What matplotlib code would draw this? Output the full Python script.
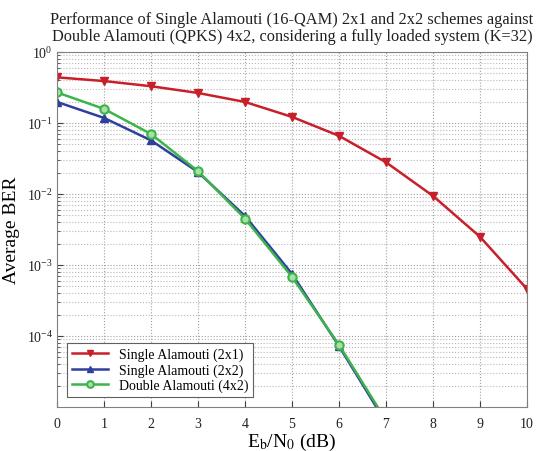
import numpy as np
import matplotlib
matplotlib.use("Agg")
import matplotlib.pyplot as plt
from matplotlib.ticker import LogLocator, NullFormatter

plt.rcParams['font.family'] = ['Liberation Serif', 'DejaVu Serif']
plt.rcParams['mathtext.fontset'] = 'stix'

ebn0 = [0, 1, 2, 3, 4, 5, 6, 7, 8, 9, 10]
ber_2x1 = [0.44, 0.39, 0.33, 0.265, 0.198, 0.122, 0.066, 0.028, 0.0094, 0.0025, 0.00046]
ebn0_short = [0, 1, 2, 3, 4, 5, 6, 7]
ber_2x2 = [0.198, 0.118, 0.057, 0.0204, 0.0049, 0.00075, 7.2e-5, 6.0e-6]
ber_4x2 = [0.27, 0.158, 0.07, 0.021, 0.0045, 0.00068, 7.5e-5, 6.5e-6]

fig = plt.figure(figsize=(5.43, 4.52), dpi=100)
ax = fig.add_axes([0.105, 0.0973, 0.8655, 0.7854])

ax.semilogy(ebn0, ber_2x1, color='#c8202a', lw=1.8, marker='v', ms=6, label='Single Alamouti (2x1)')
ax.semilogy(ebn0_short, ber_2x2, color='#2e3f9e', lw=1.8, marker='^', ms=6, label='Single Alamouti (2x2)')
ax.semilogy(ebn0_short, ber_4x2, color='#3cb44b', lw=1.8, marker='o', ms=6, mfc='#a8e0a8', mew=1.5,
            label='Double Alamouti (4x2)')

ax.set_xlim(0, 10)
ax.set_ylim(1e-5, 1)
ax.set_xticks(range(0, 11))
ax.set_yticks([1e-4, 1e-3, 1e-2, 1e-1, 1e0])
ax.yaxis.set_minor_locator(LogLocator(base=10, subs=np.arange(2, 10)))
ax.yaxis.set_minor_formatter(NullFormatter())
ax.tick_params(which='both', direction='in', labelsize=10, colors='#404040', labelcolor='#202020')
ax.tick_params(axis='x', pad=7)
ax.tick_params(axis='y', pad=3)
ax.tick_params(which='minor', length=2)
ax.tick_params(which='major', length=4)
ax.grid(True, which='major', linestyle=':', color='#a0a0a0', lw=0.8)
ax.grid(True, which='minor', axis='y', linestyle=':', color='#b8b8b8', lw=0.8)
for s in ax.spines.values():
    s.set_color('#808080')

ax.set_xlabel(r'E$_\mathrm{b}$/N$_0$ (dB)', fontsize=14, labelpad=1)
ax.set_ylabel('Average BER', fontsize=14, labelpad=5)
ax.set_title('Performance of Single Alamouti (16-QAM) 2x1 and 2x2 schemes against\n'
             'Double Alamouti (QPKS) 4x2, considering a fully loaded system (K=32)',
             fontsize=11.8, pad=9, linespacing=1.05, color='#202020')

leg = ax.legend(loc='lower left', fontsize=10, fancybox=False, framealpha=1,
                edgecolor='#606060', borderaxespad=0.7, handlelength=2.6,
                labelspacing=0.15, markerscale=0.8, borderpad=0.35)
leg.get_frame().set_linewidth(0.8)

fig.savefig('out.png', dpi=100)
